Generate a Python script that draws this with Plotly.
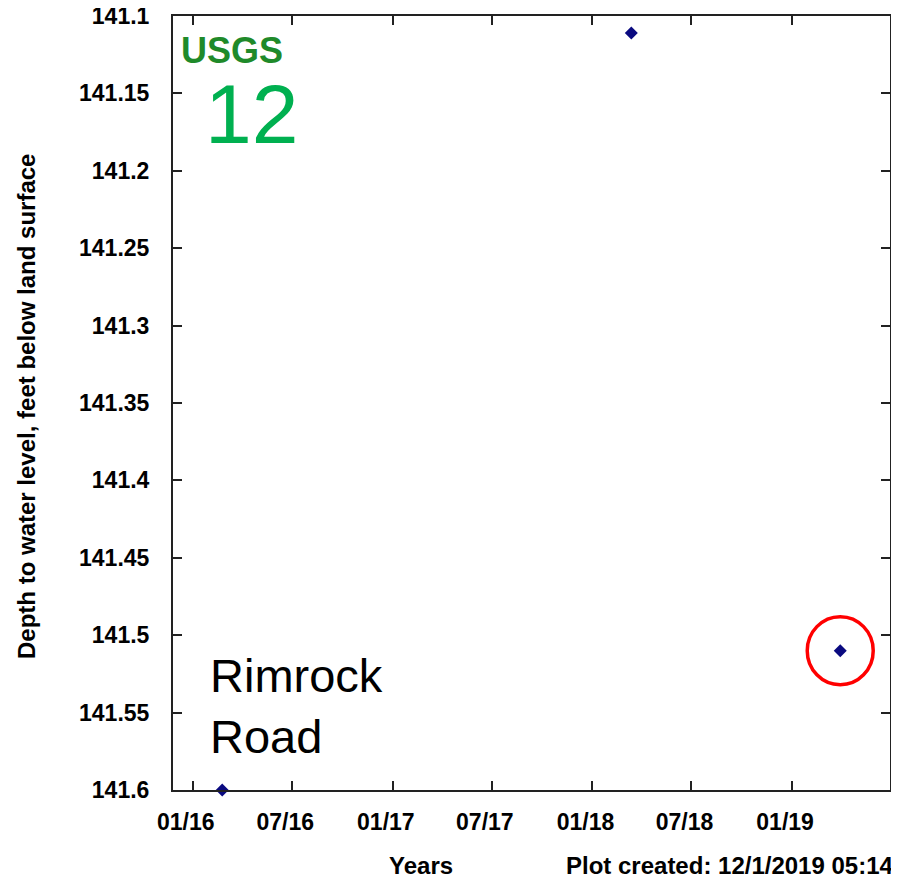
import plotly.graph_objects as go

# Data
dates = ["2016-02-24", "2018-03-13", "2019-03-30"]
depth = [141.6, 141.111, 141.51]
highlight_date = "2019-03-30"
highlight_value = 141.51

y_ticks = [141.1, 141.15, 141.2, 141.25, 141.3, 141.35, 141.4, 141.45, 141.5, 141.55, 141.6]
y_ticktext = ["141.1", "141.15", "141.2", "141.25", "141.3", "141.35", "141.4", "141.45", "141.5", "141.55", "141.6"]
x_ticks = ["2016-01-01", "2016-07-01", "2017-01-01", "2017-07-01", "2018-01-01", "2018-07-01", "2019-01-01"]
x_ticktext = ["01/16", "07/16", "01/17", "07/17", "01/18", "07/18", "01/19"]

FONT = "Liberation Sans, Arial, sans-serif"

OFF = 8  # page body margin
W, H = 899 - OFF, 878 - OFF
L, R, T, B = 173 - OFF, 890 - OFF, 16 - OFF, 790 - OFF  # plot area in figure pixels

fig = go.Figure()
fig.add_trace(go.Scatter(
    x=dates, y=depth, mode="markers",
    marker=dict(symbol="diamond", size=10, color="#0a0a80"),
    showlegend=False, cliponaxis=False,
))

fig.update_layout(
    width=W, height=H,
    margin=dict(l=L, r=W - R, t=T, b=H - B, autoexpand=False),
    paper_bgcolor="white", plot_bgcolor="white",
    font=dict(family=FONT, color="black"),
    xaxis=dict(
        range=["2015-11-26", "2019-06-29"],
        tickvals=x_ticks, ticktext=x_ticktext,
        ticks="inside", ticklen=9, tickwidth=2, tickcolor="#222",
        showline=True, linewidth=2, linecolor="#222", mirror="ticks",
        showgrid=False, zeroline=False, automargin=False,
        tickfont=dict(family=FONT, size=23, color="black", weight="bold"),
        ticklabelstandoff=10, ticklabelshift=-7, ticklabeloverflow="allow",
    ),
    yaxis=dict(
        range=[141.6, 141.1],
        tickvals=y_ticks, ticktext=y_ticktext,
        ticks="inside", ticklen=9, tickwidth=2, tickcolor="#222",
        showline=True, linewidth=2, linecolor="#222", mirror="ticks",
        showgrid=False, zeroline=False, automargin=False,
        tickfont=dict(family=FONT, size=23, color="black", weight="bold"),
        ticklabelstandoff=17, ticklabeloverflow="allow",
    ),
)

fig.add_shape(
    type="circle", xref="x", yref="y",
    xsizemode="pixel", ysizemode="pixel",
    xanchor=highlight_date, yanchor=highlight_value,
    x0=-33, x1=33, y0=-34, y1=34,
    line=dict(color="#ff0000", width=3.5),
)

# positions in page pixels (x, y from top-left)
annotations = [
    dict(text="<b>USGS</b>", x=179, y=50, font=dict(family=FONT, size=36, color="#1f8a2a"), xanchor="left", yanchor="middle"),
    dict(text="12", x=203, y=114, font=dict(family=FONT, size=84, color="#00b050"), xanchor="left", yanchor="middle"),
    dict(text="Rimrock<br>Road", x=208, y=706, font=dict(family=FONT, size=47, color="black"), xanchor="left", yanchor="middle", align="left"),
    dict(text="<b>Depth to water level, feet below land surface</b>", x=27, y=407, textangle=-90, font=dict(family=FONT, size=24, color="black"), xanchor="center", yanchor="middle"),
    dict(text="<b>Years</b>", x=421, y=865, font=dict(family=FONT, size=24, color="black"), xanchor="center", yanchor="middle"),
    dict(text="<b>Plot created: 12/1/2019 05:14</b>", x=896, y=865, font=dict(family=FONT, size=24, color="black"), xanchor="right", yanchor="middle"),
]
for a in annotations:
    a.update(xref="paper", yref="paper", showarrow=False)
    a["x"] = (a["x"] - OFF - L) / (R - L)
    a["y"] = (B - (a["y"] - OFF)) / (B - T)
fig.update_layout(annotations=annotations)

fig.write_html("out.html", post_script="document.documentElement.style.overflow='hidden';document.body.style.overflow='hidden';")
